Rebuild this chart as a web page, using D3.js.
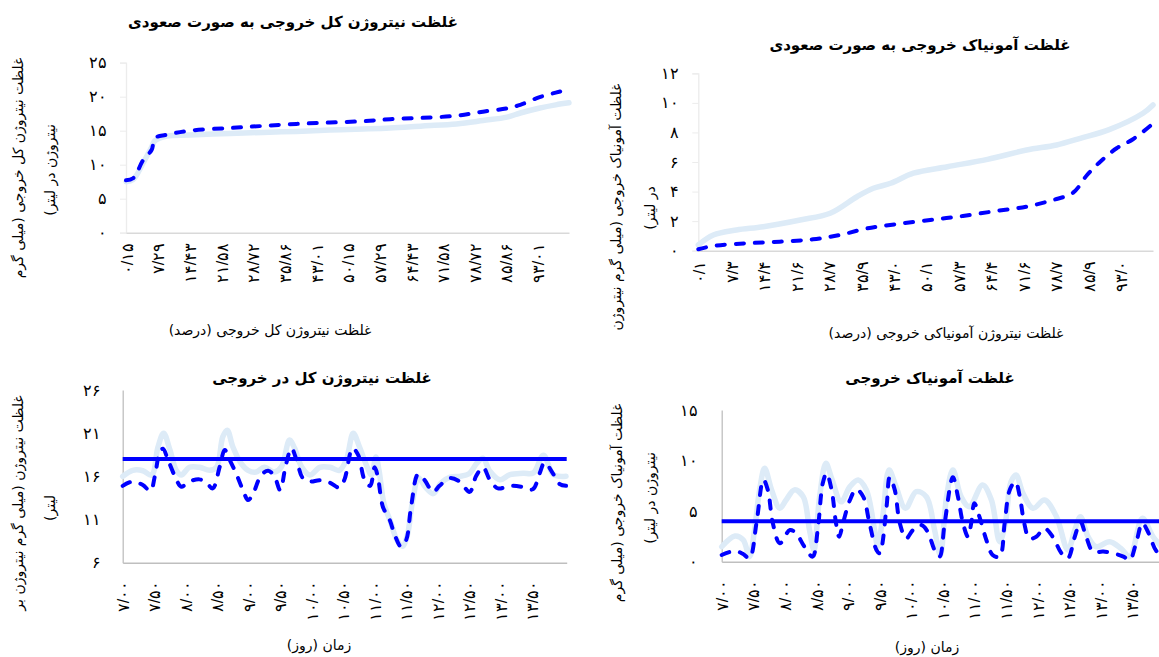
<!DOCTYPE html>
<html lang="fa">
<head>
<meta charset="utf-8">
<script src="https://cdn.jsdelivr.net/npm/d3@7"></script>
<style>
  html, body { margin: 0; padding: 0; background: #fff; }
  svg { display: block; font-family: "DejaVu Sans", sans-serif; }
</style>
</head>
<body>
<svg id="chart" width="1159" height="657"></svg>
<script>
// ---------- data: total nitrogen, cumulative (percent) ----------
const tnCumPct    = [0, 1.6, 3.9, 5.8, 6.5, 9.2, 14.4, 23.5, 30.9, 38.5, 46, 53.5, 59.6, 67, 74.6, 80.6, 86, 89, 93.2, 97, 100];
const tnCumDashed = [7.7, 8.0, 10.7, 12.2, 13.9, 14.4, 15.0, 15.4, 15.7, 16.0, 16.2, 16.4, 16.7, 16.9, 17.2, 17.8, 18.3, 18.8, 19.9, 20.6, 21.1];
const tnCumLight  = [7.5, 7.8, 10.3, 12.6, 13.5, 14.2, 14.35, 14.6, 14.75, 14.9, 15.1, 15.25, 15.4, 15.7, 16.0, 16.5, 17.0, 17.6, 18.3, 18.8, 19.1];
const tnCumXTicks = [0.15, 7.29, 14.43, 21.58, 28.72, 35.86, 43.01, 50.15, 57.29, 64.43, 71.58, 78.72, 85.86, 93.01];
const tnCumYTicks = [0, 5, 10, 15, 20, 25];

// ---------- data: ammonia, cumulative (percent) ----------
const nhCumDashedX = [0, 3.3, 10.6, 17.9, 25.2, 31.1, 37, 43.6, 51, 58.2, 65.6, 72.2, 78, 82.4, 85.5, 88.4, 92, 95.6, 99.6];
const nhCumDashed  = [0.1, 0.32, 0.5, 0.61, 0.77, 1.06, 1.5, 1.8, 2.08, 2.35, 2.69, 2.98, 3.43, 3.92, 5.12, 6.02, 6.93, 7.54, 8.5];
const nhCumLightX  = [0, 3.3, 8.4, 14.3, 22.4, 29, 34.9, 38.5, 42.3, 47.3, 54.8, 63.6, 72.2, 78.8, 84, 90.5, 97.8, 100];
const nhCumLight   = [0.39, 1.06, 1.4, 1.62, 2.08, 2.53, 3.65, 4.22, 4.56, 5.24, 5.68, 6.18, 6.81, 7.15, 7.6, 8.21, 9.3, 9.86];
const nhCumXTicks  = [0.1, 7.3, 14.4, 21.6, 28.7, 35.9, 43.0, 50.1, 57.3, 64.4, 71.6, 78.7, 85.9, 93.0];
const nhCumYTicks  = [0, 2, 4, 6, 8, 10, 12];

// ---------- data: total nitrogen over time (days) ----------
const tnDashDays = [7.0, 7.16, 7.32, 7.44, 7.51, 7.59, 7.64, 7.72, 7.83, 7.93, 8.06, 8.22, 8.33, 8.43, 8.54, 8.62, 8.70, 8.80, 8.91, 8.99,
  9.07, 9.20, 9.31, 9.41, 9.50, 9.59, 9.68, 9.76, 9.86, 9.97, 10.13, 10.29, 10.44, 10.52, 10.65, 10.74, 10.84, 10.93, 11.0, 11.05,
  11.13, 11.24, 11.32, 11.42, 11.50, 11.58, 11.69, 11.79, 11.93, 12.03, 12.19, 12.35, 12.51, 12.61, 12.72, 12.83, 12.96, 13.14, 13.33, 13.51,
  13.62, 13.70, 13.83, 13.94, 14.04];
const tnDashVals = [14.9, 15.4, 15.0, 14.3, 16.0, 18.85, 19.2, 17.9, 16.0, 14.8, 15.4, 15.65, 15.26, 14.6, 17.1, 19.05, 17.9, 16.35, 14.4, 13.25,
  14.0, 16.15, 16.65, 16.0, 14.4, 17.3, 19.25, 17.9, 15.8, 15.4, 15.55, 15.26, 14.7, 15.6, 19.25, 18.45, 15.6, 14.9, 17.05, 16.0,
  12.5, 10.95, 9.2, 7.85, 8.6, 12.5, 16.25, 15.6, 14.2, 14.9, 15.8, 15.4, 14.2, 16.0, 17.05, 15.6, 14.6, 14.9, 14.8, 14.5,
  16.35, 17.6, 16.35, 15.1, 14.9];
const tnLightDays = [7.0, 7.16, 7.32, 7.46, 7.56, 7.65, 7.75, 7.85, 7.93, 8.06, 8.22, 8.38, 8.49, 8.59, 8.66, 8.75, 8.88, 8.99, 9.12, 9.25,
  9.41, 9.52, 9.65, 9.73, 9.84, 9.97, 10.13, 10.29, 10.44, 10.55, 10.66, 10.76, 10.87, 10.95, 11.02, 11.07, 11.15, 11.25, 11.35, 11.44,
  11.52, 11.6, 11.7, 11.8, 11.93, 12.05, 12.2, 12.35, 12.5, 12.62, 12.72, 12.83, 12.99, 13.15, 13.36, 13.52, 13.68, 13.84, 14.04];
const tnLightVals = [16.0, 16.7, 16.65, 16.15, 19.4, 21.0, 19.05, 16.7, 16.15, 17.05, 17.05, 16.7, 17.05, 20.6, 21.35, 19.4, 17.5, 16.7, 16.5, 17.05,
  16.5, 17.1, 20.2, 19.25, 17.1, 16.15, 17.05, 17.05, 16.7, 17.9, 21.0, 19.4, 17.3, 16.15, 18.25, 16.7, 12.8, 10.8, 8.7, 7.9,
  9.2, 13.0, 15.8, 14.8, 14.0, 15.2, 15.9, 16.0, 16.3, 17.5, 18.1, 16.6, 15.6, 16.2, 16.35, 16.4, 18.45, 16.2, 16.0];
const tnLimit = 18;
const tnTimeYTicks = [6, 11, 16, 21, 26];

// ---------- data: ammonia over time (days) ----------
const nhDashDays = [7.0, 7.21, 7.34, 7.44, 7.55, 7.66, 7.73, 7.81, 7.92, 8.08, 8.18, 8.31, 8.44, 8.52, 8.60, 8.66, 8.74, 8.81, 8.86, 8.92,
  9.03, 9.13, 9.24, 9.34, 9.45, 9.50, 9.61, 9.66, 9.74, 9.82, 9.92, 10.03, 10.16, 10.26, 10.37, 10.45, 10.53, 10.66, 10.74, 10.82,
  10.90, 10.95, 11.0, 11.08, 11.19, 11.29, 11.40, 11.48, 11.56, 11.65, 11.72, 11.79, 11.87, 11.98, 12.11, 12.24, 12.38, 12.48, 12.59, 12.68,
  12.77, 12.88, 13.04, 13.20, 13.36, 13.46, 13.56, 13.66, 13.76, 13.89, 14.0];
const nhDashVals = [0.66, 1.06, 0.76, 0.34, 3.8, 8.1, 7.1, 3.8, 1.82, 3.14, 2.8, 1.48, 0.5, 3.14, 7.75, 8.74, 7.1, 3.8, 2.47, 3.8,
  6.1, 7.16, 6.43, 3.8, 1.16, 0.83, 5.44, 8.35, 7.1, 3.8, 2.3, 3.14, 3.63, 2.97, 1.16, 0.5, 3.8, 8.35, 6.43, 3.8,
  2.47, 3.8, 5.78, 4.45, 2.15, 0.66, 0.5, 3.8, 7.1, 7.9, 6.43, 3.8, 2.3, 2.47, 3.3, 2.47, 0.83, 0.34, 2.47, 3.96,
  2.47, 1.0, 1.0, 0.83, 0.5, 0.17, 1.82, 3.8, 2.8, 1.0, 0.8];
const nhLightDays = [7.0, 7.21, 7.34, 7.44, 7.52, 7.6, 7.68, 7.79, 7.92, 8.02, 8.15, 8.29, 8.39, 8.46, 8.55, 8.65, 8.74, 8.89, 9.03, 9.16,
  9.29, 9.42, 9.47, 9.55, 9.65, 9.76, 9.91, 10.08, 10.24, 10.37, 10.46, 10.56, 10.66, 10.79, 10.92, 11.13, 11.27, 11.40, 11.49, 11.58,
  11.66, 11.77, 11.93, 12.11, 12.30, 12.48, 12.59, 12.68, 12.80, 12.93, 13.14, 13.32, 13.46, 13.66, 13.83, 14.0];
const nhLightVals = [1.48, 2.54, 2.15, 0.5, 3.14, 7.1, 9.24, 7.1, 5.28, 6.1, 7.1, 6.43, 3.14, 1.16, 6.43, 9.73, 8.25, 5.93, 7.42, 8.08,
  7.1, 3.14, 1.48, 4.45, 9.07, 7.42, 5.28, 6.92, 6.43, 3.14, 0.66, 6.43, 9.07, 6.43, 5.44, 7.59, 6.1, 1.98, 3.8, 7.9,
  8.58, 6.76, 5.28, 6.1, 4.45, 1.16, 3.14, 4.45, 2.47, 1.48, 1.98, 1.32, 0.5, 4.29, 2.47, 1.2];
const nhLimit = 4;
const nhTimeYTicks = [0, 5, 10, 15];

const dayTicks = [7.0, 7.5, 8.0, 8.5, 9.0, 9.5, 10.0, 10.5, 11.0, 11.5, 12.0, 12.5, 13.0, 13.5];

// ---------- helpers ----------
const LIGHT = '#ddebf7';
const BLUE = '#0000ff';
const fa = s => String(s).replace(/\d/g, c => '۰۱۲۳۴۵۶۷۸۹'[+c]);
const decFmt = n => d => fa(d3.format(`.${n}f`)(d).replace('.', '/'));

const svg = d3.select('#chart');

function drawPanel(p) {
    const x = d3.scaleLinear().domain(p.xDomain).range(p.xRange);
    const y = d3.scaleLinear().domain(p.yDomain).range(p.yRange);
    const g = svg.append('g');

    // y axis
    const ya = g.append('g')
        .attr('transform', `translate(${p.xRange[0]},0)`)
        .call(d3.axisLeft(y).tickValues(p.yTicks).tickFormat(fa).tickSize(p.yTickSize).tickPadding(p.yPad));
    ya.select('.domain').attr('stroke', p.yAxisColor).attr('stroke-width', 1.3);
    ya.selectAll('.tick line').attr('stroke', p.yAxisColor);
    ya.selectAll('.tick text').attr('font-size', 16).attr('fill', '#000');

    // x axis
    const xa = g.append('g')
        .attr('transform', `translate(0,${p.yRange[0]})`)
        .call(d3.axisBottom(x).tickValues(p.xTicks).tickFormat(p.xFmt).tickSize(0).tickSizeOuter(0));
    xa.select('.domain').attr('stroke', p.xAxisColor).attr('stroke-width', 1.6);
    xa.selectAll('.tick text')
        .attr('font-size', 16)
        .attr('fill', '#000')
        .attr('transform', 'rotate(-90)')
        .attr('text-anchor', 'end')
        .attr('x', -p.xPad)
        .attr('y', 0)
        .attr('dy', '0.35em');

    const line = d3.line()
        .x(d => x(d[0]))
        .y(d => y(d[1]))
        .curve(d3.curveCatmullRom.alpha(0.5));

    g.append('path')
        .datum(d3.zip(p.lightX, p.lightY))
        .attr('d', line)
        .attr('fill', 'none')
        .attr('stroke', LIGHT)
        .attr('stroke-width', 5.5)
        .attr('stroke-linejoin', 'round')
        .attr('stroke-linecap', 'round');

    g.append('path')
        .datum(d3.zip(p.dashX, p.dashY))
        .attr('d', line)
        .attr('fill', 'none')
        .attr('stroke', BLUE)
        .attr('stroke-width', 4)
        .attr('stroke-dasharray', '8 11')
        .attr('stroke-linecap', 'round');

    if (p.limit !== undefined) {
        g.append('line')
            .attr('x1', x(p.xDomain[0])).attr('x2', x(p.xDomain[1]))
            .attr('y1', y(p.limit)).attr('y2', y(p.limit))
            .attr('stroke', BLUE)
            .attr('stroke-width', 4);
    }

    // titles (right-to-left text)
    g.append('text')
        .attr('x', p.title[1]).attr('y', p.title[2])
        .attr('direction', 'rtl')
        .attr('text-anchor', 'middle')
        .attr('font-size', 15)
        .attr('font-weight', 'bold')
        .text(p.title[0]);

    g.append('text')
        .attr('x', p.xTitle[1]).attr('y', p.xTitle[2])
        .attr('direction', 'rtl')
        .attr('text-anchor', 'middle')
        .attr('font-size', 14)
        .text(p.xTitle[0]);

    p.yTitle.forEach(([txt, cx, cy]) => {
        g.append('text')
            .attr('transform', `translate(${cx},${cy}) rotate(-90)`)
            .attr('direction', 'rtl')
            .attr('text-anchor', 'middle')
            .attr('dy', '0.35em')
            .attr('font-size', 14)
            .text(txt);
    });
}

drawPanel({
    xDomain: [0, 100], xRange: [126, 569],
    yDomain: [0, 25], yRange: [232.7, 62.7],
    xTicks: tnCumXTicks, xFmt: decFmt(2), yTicks: tnCumYTicks,
    yTickSize: 6, yPad: 13, xPad: 10,
    yAxisColor: '#ececec', xAxisColor: '#d9d9d9',
    lightX: tnCumPct, lightY: tnCumLight, dashX: tnCumPct, dashY: tnCumDashed,
    title: ['غلظت نیتروژن کل خروجی به صورت صعودی', 293, 27],
    xTitle: ['غلظت نیتروژن کل خروجی (درصد)', 270, 335],
    yTitle: [['غلظت نیتروژن کل خروجی (میلی گرم', 18, 168], ['نیتروژن در لیتر)', 50, 170]]
});

drawPanel({
    xDomain: [0, 100], xRange: [698.3, 1153],
    yDomain: [0, 12], yRange: [250.7, 73.3],
    xTicks: nhCumXTicks, xFmt: decFmt(1), yTicks: nhCumYTicks,
    yTickSize: 6, yPad: 13, xPad: 10,
    yAxisColor: '#ececec', xAxisColor: '#d9d9d9',
    lightX: nhCumLightX, lightY: nhCumLight, dashX: nhCumDashedX, dashY: nhCumDashed,
    title: ['غلظت آمونیاک خروجی به صورت صعودی', 920, 50],
    xTitle: ['غلظت نیتروژن آمونیاکی خروجی (درصد)', 946, 338],
    yTitle: [['غلظت آمونیاک خروجی (میلی گرم نیتروژن', 616, 207], ['در لیتر)', 650, 208]]
});

drawPanel({
    xDomain: [7, 14.05], xRange: [122.7, 566.7],
    yDomain: [6, 26], yRange: [562.7, 390],
    xTicks: dayTicks, xFmt: decFmt(2), yTicks: tnTimeYTicks,
    yTickSize: 0, yPad: 22, xPad: 18,
    yAxisColor: '#bfbfbf', xAxisColor: '#bfbfbf',
    lightX: tnLightDays, lightY: tnLightVals, dashX: tnDashDays, dashY: tnDashVals,
    limit: tnLimit,
    title: ['غلظت نیتروژن کل در خروجی', 322, 383],
    xTitle: ['زمان (روز)', 319, 650],
    yTitle: [['غلظت نیتروژن (میلی گرم نیتروژن بر', 18, 503], ['لیتر)', 50, 508]]
});

drawPanel({
    xDomain: [7, 14.05], xRange: [721.7, 1167],
    yDomain: [0, 15], yRange: [561.7, 410],
    xTicks: dayTicks, xFmt: decFmt(2), yTicks: nhTimeYTicks,
    yTickSize: 0, yPad: 24, xPad: 18,
    yAxisColor: '#bfbfbf', xAxisColor: '#bfbfbf',
    lightX: nhLightDays, lightY: nhLightVals, dashX: nhDashDays, dashY: nhDashVals,
    limit: nhLimit,
    title: ['غلظت آمونیاک خروجی', 930, 383],
    xTitle: ['زمان (روز)', 927, 652],
    yTitle: [['غلظت آمونیاک خروجی (میلی گرم', 617, 503], ['نیتروژن در لیتر)', 650, 498]]
});
</script>
</body>
</html>
